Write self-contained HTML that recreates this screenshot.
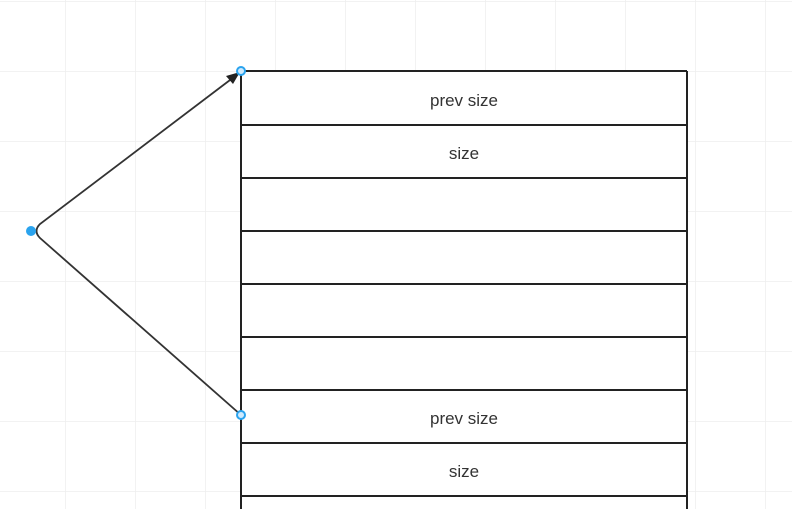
<!DOCTYPE html>
<html><head><meta charset="utf-8"><style>
html,body{margin:0;padding:0;background:#fff;}
body{width:792px;height:509px;overflow:hidden;font-family:"Liberation Sans",sans-serif;}
</style></head><body>
<svg width="792" height="509" xmlns="http://www.w3.org/2000/svg">
<defs>
<pattern id="g" x="65" y="1" width="70" height="70" patternUnits="userSpaceOnUse">
<path d="M0 0V70M0 0H70" stroke="#eeeeee" stroke-width="1.5" fill="none"/>
</pattern>
</defs>
<rect width="792" height="509" fill="url(#g)"/>
<rect x="241" y="71" width="446" height="440" fill="#fff"/>
<g stroke="#222" stroke-width="2" fill="none">
<path d="M241 71V509M687 71V509"/>
<path d="M241 71H687M241 125H687M241 178H687M241 231H687M241 284H687M241 337H687M241 390H687M241 443H687M241 496H687"/>
</g>
<g font-size="17" fill="#333" text-anchor="middle">
<text x="464" y="106">prev size</text>
<text x="464" y="159">size</text>
<text x="464" y="424">prev size</text>
<text x="464" y="477">size</text>
</g>
<path d="M241 415L40 238Q33 231 40 224L234 77" stroke="#333" stroke-width="1.8" fill="none"/>
<path d="M240 72L226 76L233 84Z" fill="#222"/>
<circle cx="31" cy="231" r="5" fill="#2aa3ee"/>
<circle cx="241" cy="415" r="4" fill="#cfeafd" stroke="#2aa3ee" stroke-width="2"/>
<circle cx="241" cy="71" r="4" fill="#cfeafd" stroke="#2aa3ee" stroke-width="2"/>
</svg>
</body></html>
